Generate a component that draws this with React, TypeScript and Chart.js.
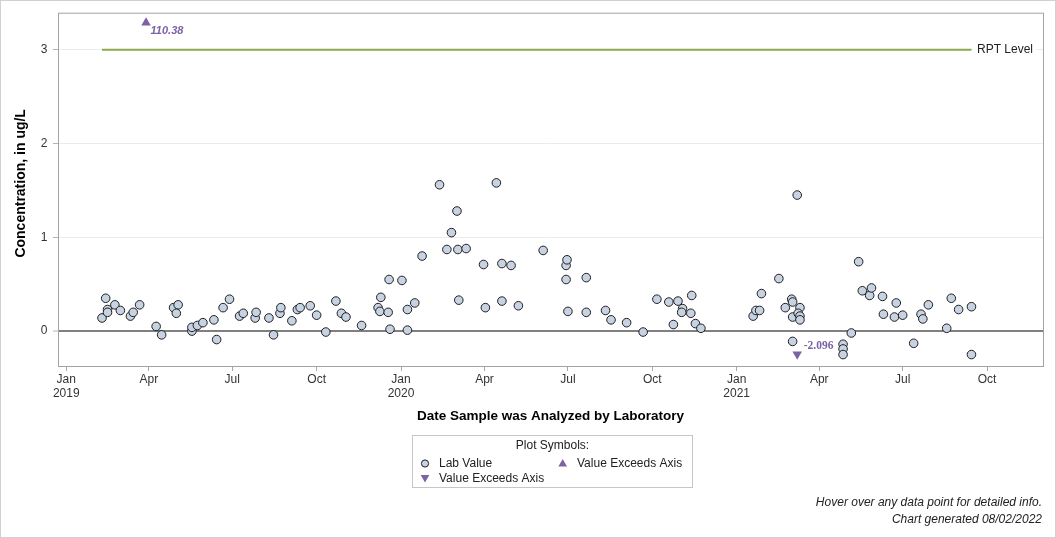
import React, { useEffect, useRef } from 'react';
import { Chart, registerables } from 'chart.js';

Chart.register(...registerables);

// ---------------- data ----------------
const sampleDates: string[] = [
  '2019-02-09', '2019-02-13', '2019-02-15', '2019-02-15', '2019-02-23', '2019-03-01', '2019-03-12', '2019-03-15',
  '2019-03-22', '2019-04-09', '2019-04-15', '2019-04-28', '2019-05-03', '2019-05-01', '2019-05-18', '2019-05-18',
  '2019-05-24', '2019-05-30', '2019-06-11', '2019-06-14', '2019-06-21', '2019-06-28', '2019-07-09', '2019-07-13',
  '2019-07-26', '2019-07-27', '2019-08-10', '2019-08-15', '2019-08-22', '2019-08-23', '2019-09-04', '2019-09-10',
  '2019-09-13', '2019-09-24', '2019-10-01', '2019-10-11', '2019-10-22', '2019-10-28', '2019-11-02', '2019-11-19',
  '2019-12-07', '2019-12-10', '2019-12-09', '2019-12-18', '2019-12-19', '2019-12-20', '2020-01-02', '2020-01-08',
  '2020-01-08', '2020-01-16', '2020-01-24', '2020-02-12', '2020-02-20', '2020-02-25', '2020-03-02', '2020-03-03',
  '2020-03-04', '2020-03-12', '2020-03-31', '2020-04-02', '2020-04-14', '2020-04-20', '2020-04-20', '2020-04-30',
  '2020-05-08', '2020-06-04', '2020-06-29', '2020-06-30', '2020-06-29', '2020-07-01', '2020-07-21', '2020-07-21',
  '2020-08-11', '2020-08-17', '2020-09-03', '2020-09-21', '2020-10-06', '2020-10-19', '2020-10-24', '2020-10-29',
  '2020-11-03', '2020-11-02', '2020-11-12', '2020-11-13', '2020-11-17', '2020-11-23', '2021-01-19', '2021-01-22',
  '2021-01-26', '2021-01-28', '2021-02-16', '2021-02-23', '2021-03-02', '2021-03-03', '2021-03-03', '2021-03-03',
  '2021-03-08', '2021-03-11', '2021-03-09', '2021-03-11', '2021-03-11', '2021-04-27', '2021-04-27', '2021-04-27',
  '2021-05-06', '2021-05-14', '2021-05-18', '2021-05-26', '2021-05-28', '2021-06-09', '2021-06-10', '2021-06-22',
  '2021-06-24', '2021-07-01', '2021-07-13', '2021-07-21', '2021-07-23', '2021-07-29', '2021-08-18', '2021-08-23',
  '2021-08-31', '2021-09-14', '2021-09-14',
];
const labValues: number[] = [
  0.14, 0.35, 0.23, 0.20, 0.28, 0.22, 0.16, 0.20,
  0.28, 0.05, -0.04, 0.25, 0.28, 0.19, 0.00, 0.04,
  0.06, 0.09, 0.12, -0.09, 0.25, 0.34, 0.16, 0.19,
  0.14, 0.20, 0.14, -0.04, 0.19, 0.25, 0.11, 0.23,
  0.25, 0.27, 0.17, -0.01, 0.32, 0.19, 0.15, 0.06,
  0.25, 0.36, 0.21, 0.20, 0.55, 0.02, 0.54, 0.01,
  0.23, 0.30, 0.80, 1.56, 0.87, 1.05, 1.28, 0.87,
  0.33, 0.88, 0.71, 0.25, 1.58, 0.72, 0.32, 0.70,
  0.27, 0.86, 0.70, 0.76, 0.55, 0.21, 0.57, 0.20,
  0.22, 0.12, 0.09, -0.01, 0.34, 0.31, 0.07, 0.32,
  0.24, 0.20, 0.19, 0.38, 0.08, 0.03, 0.16, 0.22,
  0.22, 0.40, 0.56, 0.25, 0.34, 0.31, 0.15, -0.11,
  1.45, 0.25, 0.19, 0.16, 0.12, -0.14, -0.19, -0.25,
  -0.02, 0.74, 0.43, 0.38, 0.46, 0.37, 0.18, 0.15,
  0.30, 0.17, -0.13, 0.18, 0.13, 0.28, 0.03, 0.35,
  0.23, 0.26, -0.25,
];
const aboveAxisDates: string[] = ['2019-03-29'];
const aboveAxisValues: number[] = [110.38];
const belowAxisDates: string[] = ['2021-03-08'];
const belowAxisValues: number[] = [-2.096];
const rptLevel = 3;
const rptLabel = 'RPT Level';

const yTickValues: number[] = [0, 1, 2, 3];
const yTickLabels: string[] = ['0', '1', '2', '3'];
const xTickDates: string[] = [
  '2019-01-01', '2019-04-01', '2019-07-01', '2019-10-01',
  '2020-01-01', '2020-04-01', '2020-07-01', '2020-10-01',
  '2021-01-01', '2021-04-01', '2021-07-01', '2021-10-01',
];
const xTickLabels: (string | string[])[] = [
  ['Jan', '2019'], 'Apr', 'Jul', 'Oct',
  ['Jan', '2020'], 'Apr', 'Jul', 'Oct',
  ['Jan', '2021'], 'Apr', 'Jul', 'Oct',
];
const xAxisStart = '2018-12-23';
const xAxisEnd = '2021-12-01';
const yAxisMin = -0.372;
const yAxisMax = 3.394;

const xTitle = 'Date Sample was Analyzed by Laboratory';
const yTitle = 'Concentration, in ug/L';
const legendTitle = 'Plot Symbols:';
const legendLab = 'Lab Value';
const legendExceeds = 'Value Exceeds Axis';
const footer1 = 'Hover over any data point for detailed info.';
const footer2 = 'Chart generated 08/02/2022';

// ---------------- styles ----------------
const FONT = '"Liberation Sans", Arial, Helvetica, sans-serif';
const POINT_FILL = '#c7d3e3';
const POINT_EDGE = '#1e1e1e';
const PURPLE = '#7c61a5';
const GREEN = '#8dab4a';
const OFFSCALE_TOP_INSET = 0.107;
const OFFSCALE_BOTTOM_INSET = 0.125;

const DAY = 86400000;
const EPOCH = Date.UTC(2019, 0, 1);
function toDay(s: string): number {
  const [y, m, d] = s.split('-').map(Number);
  return (Date.UTC(y, m - 1, d) - EPOCH) / DAY;
}

function triPath(ctx: CanvasRenderingContext2D, x: number, y: number, r: number, down: boolean) {
  const s = down ? -1 : 1;
  const h = (r * Math.sqrt(3)) / 2;
  ctx.beginPath();
  ctx.moveTo(x, y - s * r);
  ctx.lineTo(x + h, y + s * r / 2);
  ctx.lineTo(x - h, y + s * r / 2);
  ctx.closePath();
}

const decorPlugin = {
  id: 'decor',
  beforeDatasetsDraw(chart: any) {
    const { ctx, chartArea: a } = chart;
    ctx.save();
    ctx.strokeStyle = '#a3a3a3';
    ctx.lineWidth = 1;
    ctx.strokeRect(a.left + 0.5, a.top + 0.5, a.right - a.left, a.bottom - a.top);
    ctx.restore();
  },
  afterDatasetsDraw(chart: any) {
    const { ctx } = chart;
    const xs = chart.scales.x;
    const ys = chart.scales.y;
    ctx.save();
    // RPT label
    const days = sampleDates.map(toDay);
    const endPx = xs.getPixelForValue(Math.max(...days));
    const yPx = ys.getPixelForValue(rptLevel);
    ctx.font = `12px ${FONT}`;
    const w = ctx.measureText(rptLabel).width;
    ctx.fillStyle = '#ffffff';
    ctx.fillRect(endPx + 1, yPx - 6, w + 8, 12);
    ctx.fillStyle = '#222';
    ctx.textBaseline = 'middle';
    ctx.textAlign = 'left';
    ctx.fillText(rptLabel, endPx + 5.5, yPx + 0.5);

    // off-scale labels
    ctx.fillStyle = PURPLE;
    aboveAxisDates.forEach((d, i) => {
      const px = xs.getPixelForValue(toDay(d));
      const py = ys.getPixelForValue(yAxisMax - OFFSCALE_TOP_INSET);
      ctx.font = `italic bold 11px ${FONT}`;
      ctx.fillText(String(aboveAxisValues[i]), px + 4.5, py + 8);
    });
    belowAxisDates.forEach((d, i) => {
      const px = xs.getPixelForValue(toDay(d));
      const py = ys.getPixelForValue(yAxisMin + OFFSCALE_BOTTOM_INSET);
      ctx.font = `bold 11.5px "Liberation Serif", "Times New Roman", serif`;
      ctx.fillText(String(belowAxisValues[i]), px + 6.5, py - 8.5);
    });
    ctx.restore();
  },
  afterDraw(chart: any) {
    const { ctx, width, height, chartArea: a } = chart;
    ctx.save();
    // y axis title
    ctx.translate(21, (a.top + a.bottom) / 2 - 6);
    ctx.rotate(-Math.PI / 2);
    ctx.fillStyle = '#000';
    ctx.font = `bold 14px ${FONT}`;
    ctx.textAlign = 'center';
    ctx.textBaseline = 'middle';
    ctx.fillText(yTitle, 0, 0);
    ctx.restore();

    ctx.save();
    // legend box
    ctx.strokeStyle = '#c6c6c6';
    ctx.lineWidth = 1;
    ctx.strokeRect(412.5, 435.5, 280, 52);
    ctx.fillStyle = '#222';
    ctx.font = `12px ${FONT}`;
    ctx.textBaseline = 'middle';
    ctx.textAlign = 'center';
    ctx.fillText(legendTitle, 552.5, 446);
    ctx.textAlign = 'left';
    ctx.fillText(legendLab, 439, 463.5);
    ctx.fillText(legendExceeds, 577, 463.5);
    ctx.fillText(legendExceeds, 439, 478.5);
    // legend symbols
    ctx.beginPath();
    ctx.arc(425, 463.5, 3.6, 0, Math.PI * 2);
    ctx.fillStyle = POINT_FILL;
    ctx.fill();
    ctx.strokeStyle = POINT_EDGE;
    ctx.stroke();
    ctx.fillStyle = PURPLE;
    triPath(ctx, 562.7, 464, 5, false);
    ctx.fill();
    triPath(ctx, 425, 477.5, 5, true);
    ctx.fill();
    // footer
    ctx.fillStyle = '#222';
    ctx.font = `italic 12px ${FONT}`;
    ctx.textAlign = 'right';
    ctx.fillText(footer1, 1042, 502.5);
    ctx.fillText(footer2, 1042, 519.5);
    // outer border
    ctx.strokeStyle = '#d0d0d0';
    ctx.strokeRect(0.5, 0.5, width - 1, height - 1);
    ctx.restore();
  },
};

export default function App() {
  const canvasRef = useRef<HTMLCanvasElement | null>(null);

  useEffect(() => {
    document.body.style.margin = '0';
    const canvas = canvasRef.current;
    if (!canvas) return;

    const labPoints = sampleDates.map((d, i) => ({ x: toDay(d), y: labValues[i] }));
    const abovePoints = aboveAxisDates.map((d) => ({ x: toDay(d), y: yAxisMax - OFFSCALE_TOP_INSET }));
    const belowPoints = belowAxisDates.map((d) => ({ x: toDay(d), y: yAxisMin + OFFSCALE_BOTTOM_INSET }));
    const days = sampleDates.map(toDay);
    const rptPoints = [
      { x: Math.min(...days), y: rptLevel },
      { x: Math.max(...days), y: rptLevel },
    ];

    const chart = new Chart(canvas, {
      type: 'scatter',
      data: {
        datasets: [
          {
            label: legendLab,
            data: labPoints,
            pointRadius: 4.3,
            pointHoverRadius: 4.3,
            pointBackgroundColor: POINT_FILL,
            pointBorderColor: POINT_EDGE,
            pointBorderWidth: 1,
            showLine: false,
          },
          {
            label: legendExceeds,
            data: abovePoints,
            pointStyle: 'triangle',
            pointRadius: 5.5,
            pointHoverRadius: 5.5,
            pointBackgroundColor: PURPLE,
            pointBorderWidth: 0,
            showLine: false,
          },
          {
            label: legendExceeds,
            data: belowPoints,
            pointStyle: 'triangle',
            rotation: 180,
            pointRadius: 5.5,
            pointHoverRadius: 5.5,
            pointBackgroundColor: PURPLE,
            pointBorderWidth: 0,
            showLine: false,
          } as any,
          {
            type: 'line',
            label: rptLabel,
            data: rptPoints,
            borderColor: GREEN,
            borderWidth: 2,
            pointRadius: 0,
            fill: false,
          } as any,
        ],
      },
      options: {
        responsive: false,
        animation: false,
        maintainAspectRatio: false,
        events: [],
        layout: { padding: { left: 0, right: 13, top: 12, bottom: 0 } },
        plugins: {
          legend: { display: false },
          tooltip: { enabled: false },
          title: { display: false },
        },
        scales: {
          x: {
            type: 'linear',
            min: toDay(xAxisStart),
            max: toDay(xAxisEnd),
            border: { display: false },
            grid: {
              drawOnChartArea: false,
              drawTicks: true,
              tickLength: 5,
              color: '#a8a8a8',
              tickColor: '#a8a8a8',
            },
            ticks: {
              autoSkip: false,
              maxRotation: 0,
              minRotation: 0,
              padding: 2,
              color: '#333',
              font: { family: FONT, size: 12, lineHeight: 1.15 },
              callback: (_v: any, i: number) => xTickLabels[i],
            },
            afterBuildTicks: (s: any) => {
              s.ticks = xTickDates.map((d) => ({ value: toDay(d) }));
            },
            afterFit: (s: any) => {
              s.height = 172;
            },
            title: {
              display: true,
              text: xTitle,
              color: '#000',
              font: { family: FONT, size: 13.5, weight: 'bold', lineHeight: 1.2 },
              padding: { top: 0, bottom: 113.5 },
            },
          },
          y: {
            type: 'linear',
            min: yAxisMin,
            max: yAxisMax,
            border: { display: false },
            grid: {
              drawOnChartArea: true,
              drawTicks: true,
              tickLength: 5,
              color: (c: any) => (c.tick && c.tick.value === 0 ? '#808080' : '#ebebeb'),
              lineWidth: (c: any) => (c.tick && c.tick.value === 0 ? 2 : 1),
              tickColor: '#b4b4b4',
              tickWidth: 1,
            },
            ticks: {
              padding: 5.5,
              color: '#333',
              font: { family: FONT, size: 12 },
              callback: (_v: any, i: number) => yTickLabels[i],
            },
            afterBuildTicks: (s: any) => {
              s.ticks = yTickValues.map((v) => ({ value: v }));
            },
            afterFit: (s: any) => {
              s.width = 58;
            },
            title: { display: false },
          },
        },
      } as any,
      plugins: [decorPlugin],
    });

    return () => chart.destroy();
  }, []);

  return (
    <div style={{ width: 1056, height: 538 }}>
      <canvas ref={canvasRef} width={1056} height={538} style={{ width: 1056, height: 538, display: 'block' }} />
    </div>
  );
}
